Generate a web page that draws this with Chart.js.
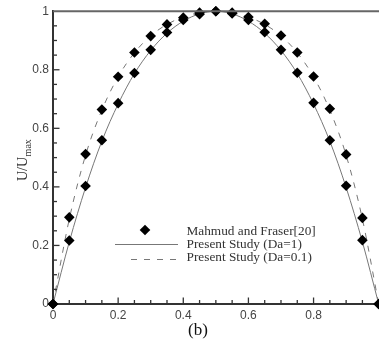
<!DOCTYPE html>
<html>
<head>
<meta charset="utf-8">
<script src="https://cdn.jsdelivr.net/npm/chart.js@4.4.0/dist/chart.umd.min.js"></script>
<style>
html,body{margin:0;padding:0;background:#fff;overflow:hidden;}
#wrap{position:absolute;left:0;top:0;width:384px;height:345px;}
</style>
</head>
<body>
<div id="wrap"><canvas id="c"></canvas></div>
<script>
// ---- data ----
const xVals = [0,0.05,0.1,0.15,0.2,0.25,0.3,0.35,0.4,0.45,0.5,0.55,0.6,0.65,0.7,0.75,0.8,0.85,0.9,0.95,1];
const mahmudDa1  = [0,0.217,0.403,0.559,0.686,0.789,0.868,0.927,0.970,0.990,1,0.992,0.970,0.928,0.868,0.790,0.687,0.559,0.404,0.218,0];
const mahmudDa01 = [0,0.296,0.512,0.664,0.776,0.859,0.915,0.955,0.978,0.995,1,0.995,0.980,0.957,0.917,0.859,0.777,0.667,0.511,0.294,0];
const studyDa1   = [0,0.212,0.398,0.556,0.683,0.787,0.866,0.925,0.966,0.991,1,0.991,0.966,0.925,0.866,0.787,0.683,0.556,0.398,0.212,0];
const studyDa01  = [0,0.290,0.508,0.662,0.776,0.858,0.916,0.955,0.980,0.995,1,0.995,0.980,0.955,0.916,0.858,0.776,0.662,0.508,0.290,0];
const xTicks = [0,0.2,0.4,0.6,0.8];
const yTicks = [0,0.2,0.4,0.6,0.8,1];
const legendLabels = ['Mahmud and Fraser[20]','Present Study (Da=1)','Present Study (Da=0.1)'];
const yTitleMain = 'U/U';
const yTitleSub = 'max';
const caption = '(b)';

const pts = (ys) => xVals.map((x,i)=>({x:x,y:ys[i]}));
const mahmudPts = pts(mahmudDa1).concat(pts(mahmudDa01));

const fmt = v => String(Number(v.toFixed(2)));

const extras = {
  id:'extras',
  afterDraw(chart){
    const ctx = chart.ctx, ca = chart.chartArea;
    const xs = chart.scales.x, ys = chart.scales.y;
    ctx.save();
    // top border
    ctx.strokeStyle = '#666'; ctx.lineWidth = 2;
    ctx.beginPath(); ctx.moveTo(ca.left, ca.top); ctx.lineTo(ca.right+2, ca.top); ctx.stroke();
    // inward ticks
    ctx.strokeStyle = '#333'; ctx.lineWidth = 1.3;
    for (let k=1;k<20;k++){
      const v = k*0.05;
      const major = (k%4===0);
      const len = major?6.5:4;
      const px = xs.getPixelForValue(v);
      ctx.beginPath(); ctx.moveTo(px, ca.bottom); ctx.lineTo(px, ca.bottom-len); ctx.stroke();
      const py = ys.getPixelForValue(v);
      ctx.beginPath(); ctx.moveTo(ca.left, py); ctx.lineTo(ca.left+len, py); ctx.stroke();
    }
    // legend
    const ds = chart.data.datasets;
    const tx = 186.5, rows=[232,245,258];
    ctx.fillStyle='#000';
    const dx=145, dy=230, r=5.3;
    ctx.beginPath(); ctx.moveTo(dx,dy-r); ctx.lineTo(dx+r,dy); ctx.lineTo(dx,dy+r); ctx.lineTo(dx-r,dy); ctx.closePath(); ctx.fill();
    ctx.strokeStyle = ds[1].borderColor; ctx.lineWidth = ds[1].borderWidth;
    ctx.beginPath(); ctx.moveTo(115,244.5); ctx.lineTo(178,244.5); ctx.stroke();
    ctx.setLineDash(ds[2].borderDash);
    ctx.beginPath(); ctx.moveTo(131,259.5); ctx.lineTo(178,259.5); ctx.stroke();
    ctx.setLineDash([]);
    ctx.fillStyle='#333'; ctx.font='13.3px "Liberation Serif", "Times New Roman", serif';
    ctx.textBaseline='middle'; ctx.textAlign='left';
    legendLabels.forEach((t,i)=>ctx.fillText(t, tx, rows[i]));
    // y title
    ctx.save();
    ctx.translate(26.5, 181); ctx.rotate(-Math.PI/2);
    ctx.textBaseline='alphabetic';
    ctx.font='14px "Liberation Serif", "Times New Roman", serif';
    ctx.fillText(yTitleMain, 0, 0);
    const w = ctx.measureText(yTitleMain).width;
    ctx.font='10px "Liberation Serif", "Times New Roman", serif';
    ctx.fillText(yTitleSub, w+0.5, 4.5);
    ctx.restore();
    // caption
    ctx.font='17px "Liberation Serif", "Times New Roman", serif';
    ctx.textAlign='center'; ctx.textBaseline='middle'; ctx.fillStyle='#111';
    ctx.fillText(caption, 198, 331);
    ctx.restore();
  }
};

new Chart(document.getElementById('c'), {
  type:'scatter',
  data:{
    datasets:[
      {label:legendLabels[0], data:mahmudPts, showLine:false, pointStyle:'rectRot', pointRadius:5.3, pointHoverRadius:5.3,
       backgroundColor:'#000', borderColor:'#000', borderWidth:0, clip:false},
      {label:legendLabels[1], data:pts(studyDa1), showLine:true, pointRadius:0, borderColor:'#777', borderWidth:1,
       cubicInterpolationMode:'monotone', clip:false},
      {label:legendLabels[2], data:pts(studyDa01), showLine:true, pointRadius:0, borderColor:'#777', borderWidth:1,
       borderDash:[6,7], cubicInterpolationMode:'monotone', clip:false}
    ]
  },
  options:{
    responsive:true, maintainAspectRatio:false, animation:false, devicePixelRatio:1,
    layout:{padding:{top:10,right:3,left:0,bottom:0}},
    plugins:{legend:{display:false}, tooltip:{enabled:false}},
    scales:{
      x:{type:'linear', min:0, max:1,
        afterBuildTicks: s => { s.ticks = xTicks.map(v=>({value:v})); },
        afterFit: s => { s.height = 41; },
        grid:{display:false, drawTicks:false},
        border:{display:true, color:'#333', width:2},
        ticks:{padding:4, color:'#444', font:{family:'"Liberation Sans", Arial, sans-serif', size:12}, callback:v=>fmt(v), maxRotation:0, autoSkip:false}
      },
      y:{type:'linear', min:0, max:1,
        afterBuildTicks: s => { s.ticks = yTicks.map(v=>({value:v})); },
        afterFit: s => { s.width = 53; },
        grid:{display:false, drawTicks:false},
        border:{display:true, color:'#333', width:2},
        ticks:{padding:4, color:'#444', font:{family:'"Liberation Sans", Arial, sans-serif', size:12}, callback:v=>fmt(v), autoSkip:false}
      }
    }
  },
  plugins:[extras]
});
</script>
</body>
</html>
